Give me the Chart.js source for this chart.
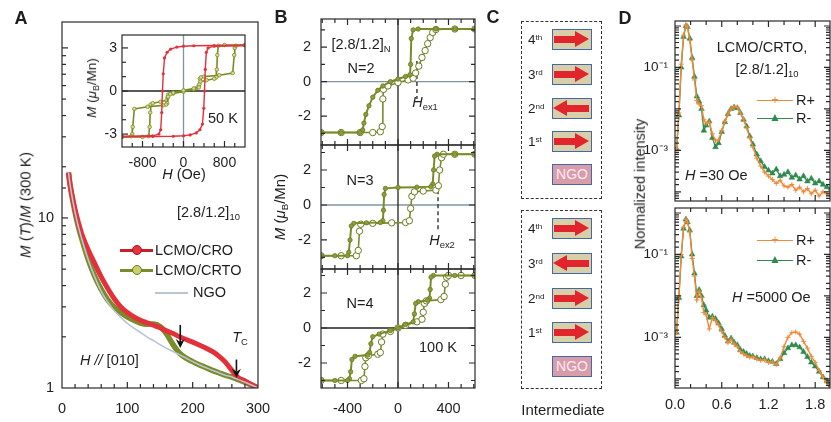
<!DOCTYPE html>
<html>
<head>
<meta charset="utf-8">
<title>LCMO/CRTO superlattices</title>
<script src="https://cdn.jsdelivr.net/npm/chart.js@4.4.1/dist/chart.umd.min.js"></script>
<style>
  html, body { margin: 0; padding: 0; }
  body { width: 831px; height: 422px; overflow: hidden; background: #fff; position: relative;
         font-family: "Liberation Sans", Arial, sans-serif; color: #1e1e1e; }
  canvas { position: absolute; }
  .t { position: absolute; white-space: nowrap; font-size: 14.5px; line-height: 1; transform: translate(-50%, -50%); }
  .t.l { transform: translate(0, -50%); }
  .t.rot { transform: translate(-50%, -50%) rotate(-90deg); }
  .letter { position: absolute; font-family: "Liberation Sans Narrow", "Liberation Sans", sans-serif;
            font-weight: bold; font-size: 18px; transform: translate(-50%, -50%); }
  sub { font-size: 65%; vertical-align: -0.35em; }
  sup { font-size: 65%; vertical-align: 0.55em; }
  .ln { position: absolute; }
  .dot { position: absolute; border-radius: 50%; transform: translate(-50%, -50%); box-sizing: border-box; }
  .dash { position: absolute; border: 1.6px dashed #333; box-sizing: border-box; }
  .layer { position: absolute; left: 552px; width: 40px; height: 21px; background: #d7cfa9;
           border: 1.5px solid #4268a6; box-sizing: border-box; }
  .layer.ngo { background: #d99caa; color: #fbecef; font-size: 14px; text-align: center; line-height: 18px; }
  .shaft { position: absolute; top: 6px; height: 6.5px; background: #e0262c; }
  .head { position: absolute; top: 0.5px; width: 0; height: 0;
          border-top: 8.5px solid transparent; border-bottom: 8.5px solid transparent; }
  .lname { position: absolute; left: 528px; font-size: 13.5px; transform: translate(0, -50%); white-space: nowrap; }
  .lname sup { vertical-align: 0.45em; font-size: 60%; }
</style>
</head>
<body>
<div id="charts"></div>

<!-- panel letters -->
<div class="letter" style="left:21px;top:18px">A</div>
<div class="letter" style="left:281px;top:17px">B</div>
<div class="letter" style="left:493px;top:17px">C</div>
<div class="letter" style="left:625px;top:18px">D</div>

<!-- A labels -->
<div class="t rot" style="left:25px;top:205px;font-size:15px"><i>M</i> (<i>T</i>)/<i>M</i> (300 K)</div>
<div class="t" style="left:158px;top:427px;font-size:15px"><i>T</i> (K)</div>
<div class="t rot" style="left:93px;top:88px;font-size:13.5px"><i>M</i> (<i>μ</i><sub>B</sub>/Mn)</div>
<div class="t" style="left:184px;top:174px"><i>H</i> (Oe)</div>
<div class="t l" style="left:208px;top:118px">50 K</div>
<div class="t l" style="left:177px;top:213px">[2.8/1.2]<sub>10</sub></div>
<div class="ln" style="left:120px;top:249px;width:33px;height:2.5px;background:#c8202a"></div>
<div class="dot" style="left:137px;top:250px;width:10px;height:10px;background:#e8323c;border:1px solid #a01820"></div>
<div class="t l" style="left:155px;top:250px">LCMO/CRO</div>
<div class="ln" style="left:120px;top:269px;width:33px;height:2.5px;background:#7a8b2a"></div>
<div class="dot" style="left:137px;top:270px;width:10px;height:10px;background:#c9cf6a;border:1.5px solid #6b7b20"></div>
<div class="t l" style="left:155px;top:270px">LCMO/CRTO</div>
<div class="ln" style="left:155px;top:292px;width:33px;height:1.6px;background:#b9c5d2"></div>
<div class="t l" style="left:193px;top:292px">NGO</div>
<div class="t l" style="left:80px;top:360px"><i>H</i> <i>//</i> [010]</div>
<div class="t" style="left:240px;top:338px"><i>T</i><sub>C</sub></div>

<!-- B labels -->
<div class="t rot" style="left:281px;top:207px;font-size:15px"><i>M</i> (<i>μ</i><sub>B</sub>/Mn)</div>
<div class="t" style="left:400px;top:428px;font-size:15px"><i>H</i> (Oe)</div>
<div class="t" style="left:361px;top:45px">[2.8/1.2]<sub>N</sub></div>
<div class="t" style="left:361px;top:68px">N=2</div>
<div class="t" style="left:425px;top:103px"><i>H</i><sub>ex1</sub></div>
<div class="t" style="left:360px;top:180px">N=3</div>
<div class="t" style="left:442px;top:241px"><i>H</i><sub>ex2</sub></div>
<div class="t" style="left:360px;top:303px">N=4</div>
<div class="t" style="left:438px;top:347px">100 K</div>

<!-- C -->
<div class="dash" style="left:521px;top:21px;width:81px;height:178px"></div>
<div class="dash" style="left:521px;top:210px;width:81px;height:179px"></div>
<div id="stacks"></div>
<div class="t" style="left:563px;top:409px;font-size:15px">Intermediate</div>

<!-- D labels -->
<div class="t rot" style="left:640px;top:184px;font-size:14.5px">Normalized intensity</div>
<div class="t" style="left:745px;top:428px;font-size:15px"><i>Q</i> (nm<sup>−1</sup>)</div>
<div class="t" style="left:762px;top:47px">LCMO/CRTO,</div>
<div class="t" style="left:767px;top:70px">[2.8/1.2]<sub>10</sub></div>
<div class="ln" style="left:757px;top:99.5px;width:36px;height:1.5px;background:#f08a3a"></div>
<div class="t" style="left:775px;top:100px;color:#f08a3a;font-size:12px">+</div>
<div class="t l" style="left:796px;top:100px">R+</div>
<div class="ln" style="left:757px;top:117.5px;width:36px;height:1.5px;background:#2e8a4e"></div>
<div class="t" style="left:775px;top:117px;color:#2e8a4e;font-size:12px">▲</div>
<div class="t l" style="left:796px;top:118px">R-</div>
<div class="t l" style="left:685px;top:175px"><i>H</i> =30 Oe</div>
<div class="ln" style="left:757px;top:239.5px;width:36px;height:1.5px;background:#f08a3a"></div>
<div class="t" style="left:775px;top:240px;color:#f08a3a;font-size:12px">+</div>
<div class="t l" style="left:796px;top:240px">R+</div>
<div class="ln" style="left:757px;top:259.5px;width:36px;height:1.5px;background:#2e8a4e"></div>
<div class="t" style="left:775px;top:259px;color:#2e8a4e;font-size:12px">▲</div>
<div class="t l" style="left:796px;top:260px">R-</div>
<div class="t l" style="left:732px;top:297px"><i>H</i> =5000 Oe</div>

<script>
// ---------- A: M(T)/M(300 K) ----------
const tempK = [10,12,15,20,25,30,40,50,60,70,80,90,100,110,120,130,140,150,160,170,180,190,200,210,220,230,240,250,260,265,270,280,290,300];
const mCro  = [18.5,16,13.8,11.2,9.4,8.1,6.5,5.4,4.5,3.85,3.35,3.0,2.78,2.62,2.5,2.42,2.34,2.26,2.17,2.09,2.0,1.93,1.86,1.79,1.72,1.64,1.54,1.42,1.27,1.2,1.15,1.1,1.05,1.0];
const mCrto = [18.5,16,13.6,10.8,8.9,7.6,5.7,4.55,3.8,3.3,2.98,2.78,2.62,2.5,2.41,2.37,2.38,2.3,2.08,1.8,1.6,1.5,1.43,1.37,1.32,1.27,1.23,1.19,1.16,1.14,1.12,1.08,1.04,1.0];
const mNgo  = [18.5,16,13.6,10.8,8.9,7.6,5.7,4.5,3.7,3.2,2.85,2.6,2.4,2.25,2.12,2.0,1.9,1.8,1.71,1.64,1.57,1.5,1.43,1.37,1.32,1.27,1.23,1.19,1.16,1.14,1.12,1.08,1.04,1.0];
const arrowT    = [181, 267];
const arrowFrom = [2.35, 1.47];
const arrowTo   = [1.72, 1.15];

// inset, 50 K loops
const hCroDown  = [1200,600,200,0,-130,-250,-320,-370,-395,-410,-425,-445,-480,-600,-1200];
const mCroDown  = [3.17,3.17,3.15,3.12,3.06,2.92,2.7,2.3,1.2,0,-1.5,-2.7,-3.0,-3.12,-3.17];
const hCroUp    = [-1200,-600,-200,0,130,250,320,370,395,410,425,445,480,600,1200];
const mCroUp    = [-3.17,-3.17,-3.15,-3.12,-3.06,-2.92,-2.7,-2.3,-1.2,0,1.5,2.7,3.0,3.12,3.17];
const hCrtoDown = [1200,800,680,660,650,640,600,450,330,310,300,200,0,-200,-260,-300,-320,-340,-400,-700,-960,-990,-1000,-1020,-1200];
const mCrtoDown = [3.2,3.2,3.15,2.5,1.5,0.95,0.85,0.75,0.65,0.45,0.25,0.18,0.05,-0.12,-0.22,-0.4,-0.85,-0.95,-1.0,-1.1,-1.25,-2.5,-3.0,-3.15,-3.2];
const hCrtoUp   = [-1200,-800,-680,-660,-650,-640,-600,-450,-330,-310,-300,-200,0,200,260,300,320,340,400,700,960,990,1000,1020,1200];
const mCrtoUp   = [-3.2,-3.2,-3.15,-2.5,-1.5,-0.95,-0.85,-0.75,-0.65,-0.45,-0.25,-0.18,-0.05,0.12,0.22,0.4,0.85,0.95,1.0,1.1,1.25,2.5,3.0,3.15,3.2];

// ---------- B: 100 K loops, N = 2, 3, 4 ----------
const hN2Down = [610,450,300,160,120,105,100,95,60,0,-60,-120,-160,-200,-230,-255,-270,-280,-300,-450,-610];
const mN2Down = [3.05,3.05,3.05,3.05,3.0,2.5,1.0,0.4,0.3,0.15,0.0,-0.25,-0.5,-0.9,-1.4,-1.9,-2.4,-2.8,-2.95,-2.95,-2.95];
const hN2Up   = [-610,-450,-300,-200,-140,-125,-120,-115,-80,0,80,120,140,165,190,215,235,255,275,300,450,610];
const mN2Up   = [-2.95,-2.95,-2.95,-2.95,-2.9,-2.6,-1.0,-0.45,-0.25,-0.05,0.1,0.2,0.5,0.9,1.4,1.8,2.2,2.55,2.85,3.02,3.05,3.05];
const hN3Down = [610,450,310,290,282,275,260,150,0,-100,-110,-115,-120,-140,-250,-350,-370,-380,-390,-400,-500,-610];
const mN3Down = [2.9,2.9,2.9,2.8,2.0,1.2,1.05,1.02,1.0,0.95,0.6,-0.3,-0.9,-1.0,-1.02,-1.05,-1.2,-2.0,-2.7,-2.9,-2.9,-2.9];
const hN3Up   = [-610,-450,-330,-315,-305,-295,-200,-50,60,90,100,110,130,200,300,320,330,345,360,450,610];
const mN3Up   = [-2.9,-2.9,-2.9,-2.6,-1.5,-1.1,-1.05,-1.02,-1.0,-0.9,-0.2,0.5,0.75,0.8,0.85,1.1,2.0,2.7,2.9,2.9,2.9];
const hN4Down = [610,450,280,262,255,250,235,160,140,130,120,60,0,-60,-150,-200,-215,-225,-240,-340,-365,-375,-385,-400,-500,-610];
const mN4Down = [3.0,3.0,3.0,2.9,2.2,1.7,1.58,1.5,1.4,0.8,0.35,0.2,0.0,-0.15,-0.35,-0.5,-0.9,-1.4,-1.55,-1.62,-1.8,-2.5,-2.9,-3.0,-3.0,-3.0];
const hN4Up   = [-610,-450,-290,-270,-262,-255,-235,-160,-140,-130,-120,-60,0,60,150,190,200,210,225,340,365,375,385,400,500,610];
const mN4Up   = [-3.0,-3.0,-3.0,-2.9,-2.2,-1.7,-1.58,-1.5,-1.4,-0.8,-0.35,-0.2,0.0,0.15,0.35,0.5,0.9,1.4,1.55,1.62,1.8,2.5,2.9,3.0,3.0,3.0];
const hexField = [150, 317];
const hexTop   = [1.2, 1.24];
const hexBot   = [-1.0, -1.43];

// ---------- C: layer configurations ----------
const layerNames  = ['4th', '3rd', '2nd', '1st'];
const spinsUpper  = [1, 1, -1, 1];
const spinsLower  = [1, -1, 1, 1];

// ---------- D: reflectivity ----------
const qNm = [0.02,0.05,0.08,0.11,0.14,0.16,0.19,0.22,0.25,0.28,0.31,0.34,0.37,0.40,0.44,0.48,0.52,0.56,0.60,0.64,0.68,0.72,0.76,0.80,0.84,0.88,0.92,0.96,1.00,1.05,1.10,1.15,1.20,1.25,1.30,1.35,1.40,1.45,1.50,1.55,1.60,1.65,1.70,1.75,1.80,1.85,1.90,1.95,2.0];
const rPlus30 = [1.1e-3,8e-3,0.12,0.6,1.05,0.95,0.45,0.15,0.05,1.6e-2,1.3e-2,1.2e-2,5.5e-3,4.5e-3,4.8e-3,2.5e-3,1.7e-3,1.8e-3,3.0e-3,5e-3,7.5e-3,1.0e-2,1.15e-2,1.1e-2,8e-3,5.5e-3,3.5e-3,2.0e-3,1.2e-3,6.5e-4,4.2e-4,3.0e-4,2.4e-4,2.0e-4,1.6e-4,1.9e-4,1.4e-4,1.3e-4,1.5e-4,1.1e-4,1.3e-4,1.0e-4,1.2e-4,9e-5,1.1e-4,8e-5,1.0e-4,9e-5,8e-5];
const rMinus30 = [1.1e-3,7e-3,0.1,0.55,1.0,0.95,0.5,0.17,0.06,2.0e-2,1.5e-2,1.0e-2,3.0e-3,4.0e-3,5.0e-3,2.0e-3,1.2e-3,1.5e-3,2.8e-3,4.8e-3,7.5e-3,1.0e-2,1.1e-2,1.05e-2,8e-3,5.5e-3,3.8e-3,2.2e-3,1.4e-3,8e-4,5.5e-4,4.0e-4,3.3e-4,2.8e-4,3.5e-4,2.4e-4,2.6e-4,3.0e-4,2.2e-4,2.5e-4,2.0e-4,2.4e-4,1.8e-4,2.1e-4,1.6e-4,1.8e-4,1.5e-4,1.3e-4,1.2e-4];
const rPlus5000 = [1.3e-3,1e-2,0.1,0.45,0.7,0.6,0.35,0.08,3e-2,8e-3,1.3e-2,9e-3,4e-3,3.5e-3,1.6e-3,3e-3,2.5e-3,2e-3,1.4e-3,1.0e-3,7.5e-4,9e-4,7e-4,6e-4,4.5e-4,4e-4,3.6e-4,3.3e-4,3.4e-4,3e-4,2.8e-4,2.9e-4,2.5e-4,2.6e-4,2.2e-4,3.2e-4,6e-4,1.0e-3,1.3e-3,1.35e-3,1.2e-3,8e-4,5.5e-4,3.5e-4,2.5e-4,1.6e-4,1.1e-4,8e-5,6e-5];
const rMinus5000 = [1.3e-3,9e-3,0.09,0.42,0.7,0.6,0.38,0.1,3.5e-2,1.0e-2,1.4e-2,1.0e-2,6e-3,4.5e-3,3.0e-3,3.2e-3,2.8e-3,2.2e-3,1.6e-3,1.1e-3,8e-4,9.5e-4,7.5e-4,6.5e-4,5e-4,4.5e-4,4e-4,3.6e-4,3.5e-4,3.2e-4,3.0e-4,3.0e-4,2.7e-4,2.6e-4,2.3e-4,3.0e-4,4.2e-4,5.5e-4,6.5e-4,6.5e-4,5.8e-4,4.5e-4,3.4e-4,2.5e-4,2.0e-4,1.5e-4,1.1e-4,9e-5,7e-5];

// ---------- tick positions ----------
const steps = (lo, hi, d) => { const a = []; for (let v = lo; v <= hi + d / 1000; v += d) a.push(Math.round(v * 1000) / 1000); return a; };
const ticksT     = steps(0, 300, 20);
const ticksInsH  = steps(-1200, 1200, 200);
const ticksInsM  = steps(-3, 3, 1);
const ticksBH    = steps(-600, 600, 100);
const ticksBM    = steps(-3, 3, 1);
const ticksQ     = steps(0, 1.8, 0.2);

// ---------- colours ----------
const RED = '#e2313a';
const OLIVE = '#7a8b2a';
const OLIVE_FILL = '#d9db8c';
const NGO_LINE = '#b9c5d2';
const ORANGE = '#f08a3a';
const GREEN = '#2e8a4e';
const ZERO_BLUE = '#7f95a6';

Chart.defaults.font.family = '"Liberation Sans", Arial, sans-serif';
Chart.defaults.font.size = 14.5;
Chart.defaults.color = '#1e1e1e';
Chart.defaults.animation = false;
Chart.defaults.plugins.legend.display = false;
Chart.defaults.plugins.tooltip.enabled = false;

const pts = (xs, ys) => xs.map((x, i) => ({ x, y: ys[i] }));
const isDecade = v => Math.abs(Math.log10(v) - Math.round(Math.log10(v))) < 1e-6;
const isMult = (v, s) => Math.abs(v / s - Math.round(v / s)) < 1e-6;

// frame, inward ticks, zero lines and arrows
const framePlugin = {
  id: 'frame',
  beforeDatasetsDraw(chart, args, o) {
    const { ctx, chartArea: a, scales: { x, y } } = chart;
    ctx.save();
    ctx.lineWidth = 1.3;
    if (o.zeroY) {
      const p = y.getPixelForValue(0);
      ctx.strokeStyle = o.zeroY;
      ctx.beginPath(); ctx.moveTo(a.left, p); ctx.lineTo(a.right, p); ctx.stroke();
    }
    if (o.zeroX) {
      const p = x.getPixelForValue(0);
      ctx.strokeStyle = o.zeroX;
      ctx.beginPath(); ctx.moveTo(p, a.top); ctx.lineTo(p, a.bottom); ctx.stroke();
    }
    ctx.restore();
  },
  afterDatasetsDraw(chart, args, o) {
    const { ctx, chartArea: a, scales: { x, y } } = chart;
    const sides = o.sides || 'lb';
    ctx.save();
    ctx.strokeStyle = '#2a2a2a';
    ctx.lineWidth = 1.2;
    ctx.strokeRect(a.left, a.top, a.right - a.left, a.bottom - a.top);
    const isMajor = (s, t) => (s.type === 'logarithmic' ? isDecade(t.value) : (t.label !== '' && t.label != null));
    x.ticks.forEach(t => {
      const p = x.getPixelForValue(t.value);
      if (p < a.left + 1 || p > a.right - 1) return;
      const len = isMajor(x, t) ? 6 : 4;
      ctx.beginPath();
      if (sides.includes('b')) { ctx.moveTo(p, a.bottom); ctx.lineTo(p, a.bottom - len); }
      if (sides.includes('t')) { ctx.moveTo(p, a.top); ctx.lineTo(p, a.top + len); }
      ctx.stroke();
    });
    y.ticks.forEach(t => {
      const p = y.getPixelForValue(t.value);
      if (p < a.top + 1 || p > a.bottom - 1) return;
      const len = isMajor(y, t) ? 6 : 4;
      ctx.beginPath();
      if (sides.includes('l')) { ctx.moveTo(a.left, p); ctx.lineTo(a.left + len, p); }
      if (sides.includes('r')) { ctx.moveTo(a.right, p); ctx.lineTo(a.right - len, p); }
      ctx.stroke();
    });
    (o.arrows || []).forEach(ar => {
      const px = x.getPixelForValue(ar.x);
      const p0 = y.getPixelForValue(ar.y0), p1 = y.getPixelForValue(ar.y1);
      ctx.strokeStyle = '#111'; ctx.fillStyle = '#111'; ctx.lineWidth = 1.6;
      ctx.beginPath(); ctx.moveTo(px, p0); ctx.lineTo(px, p1 - 6); ctx.stroke();
      ctx.beginPath(); ctx.moveTo(px - 4.5, p1 - 9); ctx.lineTo(px, p1); ctx.lineTo(px + 4.5, p1 - 9);
      ctx.lineTo(px, p1 - 6); ctx.closePath(); ctx.fill();
    });
    ctx.restore();
  }
};
Chart.register(framePlugin);

const PAD_L = 46, PAD_R = 20, PAD_T = 12, PAD_B = 30;

function axis(type, min, max, tickVals, label, show, isX, pad, size) {
  const o = {
    type, min, max,
    grid: { display: false, drawTicks: false },
    border: { display: false },
    ticks: { display: show, autoSkip: false, maxRotation: 0, padding: pad, callback: label, font: { size: size || 14.5 } },
    afterFit: s => {
      if (isX) s.height = PAD_B; else s.width = PAD_L;
      s.paddingLeft = s.paddingRight = s.paddingTop = s.paddingBottom = 0;
    }
  };
  if (tickVals) o.afterBuildTicks = s => { s.ticks = tickVals.map(v => ({ value: v })); };
  return o;
}

function plot(area, datasets, xs, ys, frame) {
  const [l, t, r, b] = area;
  const cv = document.createElement('canvas');
  const w = r - l + PAD_L + PAD_R, h = b - t + PAD_T + PAD_B;
  cv.width = w; cv.height = h;
  Object.assign(cv.style, { left: (l - PAD_L) + 'px', top: (t - PAD_T) + 'px', width: w + 'px', height: h + 'px' });
  document.getElementById('charts').appendChild(cv);
  return new Chart(cv, {
    type: 'scatter',
    data: { datasets },
    options: {
      responsive: false,
      devicePixelRatio: 1,
      layout: { padding: { left: 0, top: PAD_T, right: PAD_R, bottom: 0 } },
      scales: { x: xs, y: ys },
      plugins: { frame }
    }
  });
}

function line(data, color, width, extra) {
  return Object.assign({ data, showLine: true, borderColor: color, borderWidth: width, pointRadius: 0, tension: 0 }, extra || {});
}

// ---- A main
plot([62, 22, 258, 388], [
  line(pts(tempK, mNgo), NGO_LINE, 1.6, { cubicInterpolationMode: 'monotone' }),
  line(pts(tempK, mCro), RED, 5, { cubicInterpolationMode: 'monotone' }),
  line(pts(tempK, mCrto), OLIVE, 5.5, { cubicInterpolationMode: 'monotone' }),
  line(pts(tempK, mCrto), OLIVE_FILL, 2, { cubicInterpolationMode: 'monotone' })
],
  axis('linear', 0, 300, ticksT, v => (isMult(v, 100) ? String(v) : ''), true, true, 12),
  axis('logarithmic', 1, 142, null, v => (v === 1 || v === 10 ? String(v) : ''), true, false, 8),
  { sides: 'lb', arrows: arrowT.map((x, i) => ({ x, y0: arrowFrom[i], y1: arrowTo[i] })) });

// ---- A inset
plot([122, 35, 245, 147], [
  line(pts(hCroDown, mCroDown), RED, 1.4, { pointRadius: 1.6, pointBackgroundColor: RED, pointBorderWidth: 0 }),
  line(pts(hCroUp, mCroUp), RED, 1.4, { pointRadius: 1.6, pointBackgroundColor: RED, pointBorderWidth: 0 }),
  line(pts(hCrtoDown, mCrtoDown), OLIVE, 1.6, { pointRadius: 1.8, pointBackgroundColor: OLIVE_FILL, pointBorderColor: OLIVE, pointBorderWidth: 0.8 }),
  line(pts(hCrtoUp, mCrtoUp), OLIVE, 1.6, { pointRadius: 1.8, pointBackgroundColor: OLIVE_FILL, pointBorderColor: OLIVE, pointBorderWidth: 0.8 })
],
  axis('linear', -1200, 1200, ticksInsH, v => (isMult(v, 800) ? String(v) : ''), true, true, 8, 14),
  axis('linear', -3.9, 3.9, ticksInsM, v => (isMult(v, 3) ? String(v) : ''), true, false, 5, 14),
  { sides: 'lb', zeroY: '#222', zeroX: ZERO_BLUE });

// ---- B
const filledBranch = { pointRadius: 2.2, pointBackgroundColor: '#8d9c3a', pointBorderColor: '#6b7b20', pointBorderWidth: 0.8 };
const openBranch = { pointRadius: 3.2, pointBackgroundColor: '#ffffff', pointBorderColor: '#6b7b20', pointBorderWidth: 1 };
const hexLine = i => line([{ x: hexField[i], y: hexTop[i] }, { x: hexField[i], y: hexBot[i] }], '#222', 1.3, { borderDash: [4, 3] });
const bx = show => axis('linear', -610, 610, ticksBH, v => (isMult(v, 400) ? String(v) : ''), show, true, 12);
const by = (lo, hi) => axis('linear', lo, hi, ticksBM, v => (isMult(v, 2) ? String(v) : ''), true, false, 10);

plot([321, 19, 475, 145], [
  line(pts(hN2Down, mN2Down), OLIVE, 2, filledBranch),
  line(pts(hN2Up, mN2Up), OLIVE, 1.6, openBranch),
  hexLine(0)
], bx(false), by(-3.67, 3.63), { sides: 'lbtr', zeroY: ZERO_BLUE, zeroX: '#222' });

plot([321, 145, 475, 269], [
  line(pts(hN3Down, mN3Down), OLIVE, 2, filledBranch),
  line(pts(hN3Up, mN3Up), OLIVE, 1.6, openBranch),
  hexLine(1)
], bx(false), by(-3.66, 3.43), { sides: 'lbtr', zeroY: ZERO_BLUE, zeroX: '#222' });

plot([321, 269, 475, 388], [
  line(pts(hN4Down, mN4Down), OLIVE, 2, filledBranch),
  line(pts(hN4Up, mN4Up), OLIVE, 1.6, openBranch)
], bx(true), by(-3.43, 3.37), { sides: 'lbtr', zeroY: '#222', zeroX: '#222' });

// ---- D
const supLabel = { '-1': '10\u207B\u00B9', '-3': '10\u207B\u00B3' };
const dx = show => axis('linear', 0, 1.99, ticksQ, v => (isMult(v, 0.6) ? v.toFixed(1) : ''), show, true, 8);
const dy = () => axis('logarithmic', Math.pow(10, -4.22), Math.pow(10, 0.12), null,
  v => (isDecade(v) ? (supLabel[String(Math.round(Math.log10(v)))] || '') : ''), true, false, 7, 13.5);
const plusMarks = { pointStyle: 'cross', pointRadius: 2.5, pointBorderColor: ORANGE, pointBorderWidth: 1 };
const triMarks = { pointStyle: 'triangle', pointRadius: 3.3, pointBackgroundColor: GREEN, pointBorderColor: GREEN, pointBorderWidth: 0.5 };

plot([675, 21, 830, 201], [
  line(pts(qNm, rPlus30), ORANGE, 1.4, plusMarks),
  line(pts(qNm, rMinus30), GREEN, 1.3, triMarks)
], dx(false), dy(), { sides: 'lbtr' });

plot([675, 208, 830, 388], [
  line(pts(qNm, rPlus5000), ORANGE, 1.4, plusMarks),
  line(pts(qNm, rMinus5000), GREEN, 1.3, triMarks)
], dx(true), dy(), { sides: 'lbtr' });

// ---- C: layer stacks
function stack(tops, spins) {
  let html = '';
  spins.forEach((s, i) => {
    const top = tops[i];
    html += `<div class="lname" style="top:${top + 10}px">${layerNames[i].slice(0, 1)}<sup>${layerNames[i].slice(1)}</sup></div>`;
    const arrow = s > 0
      ? `<div class="shaft" style="left:1px;width:23px"></div><div class="head" style="left:22px;border-left:14px solid #e0262c"></div>`
      : `<div class="head" style="left:0px;border-right:14px solid #e0262c"></div><div class="shaft" style="left:13px;width:23px"></div>`;
    html += `<div class="layer" style="top:${top}px">${arrow}</div>`;
  });
  html += `<div class="layer ngo" style="top:${tops[4]}px">NGO</div>`;
  return html;
}
document.getElementById('stacks').innerHTML =
  stack([29, 64, 98, 131, 164], spinsUpper) + stack([218, 253, 288, 322, 356], spinsLower);
</script>
</body>
</html>
